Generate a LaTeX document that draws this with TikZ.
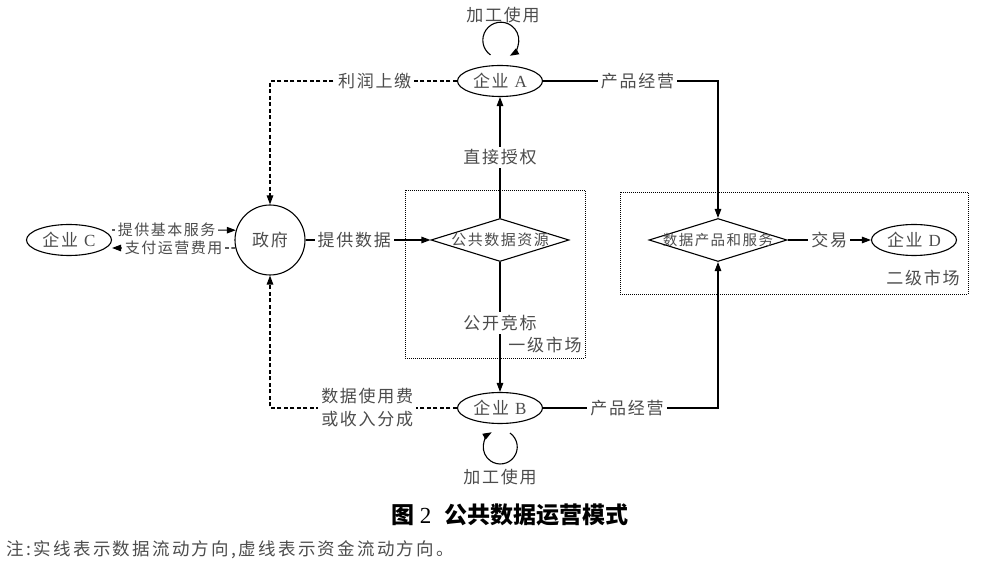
\documentclass[tikz,border=0pt]{standalone}
\usepackage{fontspec}
\setmainfont{Liberation Serif}
\newfontfamily\cjk[LetterSpace=10]{Noto Sans CJK SC}
\newfontfamily\cjkn[LetterSpace=13]{Noto Sans CJK SC}
\newfontfamily\hei{Noto Sans CJK SC}
\usetikzlibrary{shapes,arrows.meta}

\begin{document}
\begin{tikzpicture}[x=1pt,y=1pt,line width=1.1pt,>={Triangle[length=9pt,width=6.5pt]},
    every node/.style={font=\cjk\fontsize{17}{23}\selectfont,text=black!70},
    ent/.style={ellipse,draw,text=black!70,minimum width=85,minimum height=31,inner sep=0},
    hub/.style={diamond,draw,minimum width=138,minimum height=43,inner sep=0},
    lbl/.style={fill=white,inner sep=3pt},
    small/.style={font=\cjk\fontsize{15}{18}\selectfont},
    money/.style={dash pattern=on 4pt off 2.5pt},
    market/.style={line width=0.9pt,dash pattern=on 1pt off 1pt}]
    \useasboundingbox (0,0) rectangle (1001,568);
    % markets
    \draw[market] (405,378) rectangle (585,210);
    \draw[market] (620,376) rectangle (968,274);
    \node (m1) at (545,223) {一级市场};
    \node (m2) at (923,290) {二级市场};
    % nodes
    \node[ent] (entA) at (500,487) {企业\hspace{6pt}{\rmfamily A}};
    \node[ent] (entB) at (500,160) {企业\hspace{6pt}{\rmfamily B}};
    \node[ent] (entC) at (69,328) {企业\hspace{6pt}{\rmfamily C}};
    \node[ent] (entD) at (914,328) {企业\hspace{6pt}{\rmfamily D}};
    \node[circle,draw,minimum size=70,inner sep=0] (gov) at (270,328) {政府};
    \node[hub,small] (pub) at (500,328) {\makebox[0pt]{公共数据资源}};
    \node[hub,font=\cjk\fontsize{14.5}{18}\selectfont] (prod) at (718,328) {\makebox[0pt]{数据产品和服务}};
    \node (useA) at (503,553) {加工使用};
    \node (useB) at (500,91) {加工使用};
    % data flow
    \path[->]
    (pub) edge node[lbl] {直接授权} (entA)
    edge node[lbl,pos=0.47] {公开竞标} (entB)
    (gov) edge node[lbl,pos=0.39] {提供数据} (pub)
    (prod) edge node[lbl] {交易} (entD);
    \draw[->] (entA) -| node[lbl,pos=0.27] {产品经营} (prod);
    \draw[->] (entB) -| node[lbl,pos=0.24] {产品经营} (prod);
    \draw[->] ([yshift=10pt]entC.east) -- node[lbl,small,pos=0.44] {提供基本服务} (gov.164);
    \draw[->] ([shift={(-9.5,10)}]entA.north) arc[start angle=235,end angle=-60,radius=18];
    \draw[->] ([shift={(10,-9)}]entB.south) arc[start angle=55,end angle=-240,radius=17];
    % money flow
    \draw[money,->] (entA) -| node[lbl,pos=0.22] {利润上缴} (gov);
    \draw[money,->] (entB) -| node[lbl,pos=0.24,align=center] {数据使用费\\或收入分成} (gov);
    \draw[money,->] (gov.193) -- node[lbl,small] {支付运营费用} ([yshift=-8pt]entC.east);
    % caption
    \node[font=\hei\bfseries\fontsize{23}{27}\selectfont,text=black] (cap) at (510,53) {图\hspace{5pt}{\rmfamily\mdseries 2}\hspace{13pt}公共数据运营模式};
    \node[anchor=west,font=\cjkn\fontsize{17.5}{21}\selectfont] (note) at (3,18) {注:实线表示数据流动方向,虚线表示资金流动方向。};
\end{tikzpicture}
\end{document}
